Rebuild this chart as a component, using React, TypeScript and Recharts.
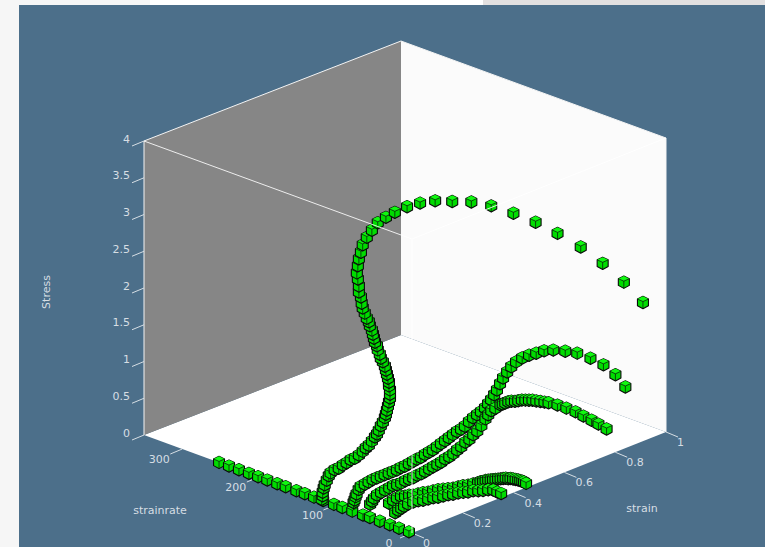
import { ScatterChart, Scatter, XAxis, YAxis } from 'recharts'

// Axis ticks
const stressTicks = [0, 0.5, 1, 1.5, 2, 2.5, 3, 3.5, 4]
const strainTicks = [0, 0.2, 0.4, 0.6, 0.8, 1]
const rateTicks = [0, 100, 200, 300]
const rateMax = 350
const stressMax = 4

// Points lying along the strainrate axis (strain and stress both zero)
const axisRates = [252, 239, 226, 213, 201, 189, 176, 165, 151, 140, 128, 116, 102, 91, 78, 64, 55, 42, 29, 17, 4]

// Constant strainrate of each curve
const curveRates = [118, 88, 60, 30, 22]

const strainA = [0, 0.004, 0.004, 0.008, 0.012, 0.02, 0.028, 0.035, 0.051, 0.067, 0.083, 0.098, 0.114, 0.13, 0.146, 0.161, 0.173, 0.185, 0.197, 0.209, 0.217, 0.224, 0.232, 0.24, 0.248, 0.252, 0.256, 0.26, 0.264, 0.268, 0.268, 0.268, 0.264, 0.264, 0.26, 0.256, 0.252, 0.248, 0.24, 0.232, 0.228, 0.22, 0.217, 0.209, 0.205, 0.201, 0.197, 0.189, 0.185, 0.177, 0.169, 0.161, 0.157, 0.154, 0.146, 0.146, 0.142, 0.138, 0.142, 0.146, 0.154, 0.161, 0.177, 0.197, 0.22, 0.252, 0.287, 0.335, 0.386, 0.445, 0.512, 0.587, 0.665, 0.752, 0.839, 0.925, 1.016, 1.102, 1.185, 1.26]
const stressA = [0.01, 0.05, 0.1, 0.15, 0.19, 0.24, 0.29, 0.32, 0.34, 0.34, 0.36, 0.37, 0.39, 0.39, 0.41, 0.44, 0.47, 0.49, 0.53, 0.57, 0.6, 0.64, 0.69, 0.73, 0.78, 0.82, 0.87, 0.92, 0.97, 1.02, 1.07, 1.13, 1.19, 1.24, 1.3, 1.36, 1.42, 1.48, 1.55, 1.61, 1.67, 1.74, 1.8, 1.86, 1.92, 1.98, 2.04, 2.11, 2.17, 2.23, 2.31, 2.39, 2.46, 2.55, 2.63, 2.71, 2.81, 2.9, 2.99, 3.08, 3.16, 3.25, 3.33, 3.4, 3.47, 3.5, 3.52, 3.53, 3.51, 3.46, 3.36, 3.25, 3.09, 2.87, 2.63, 2.36, 2.05, 1.71, 1.34, 0.96]

const strainB = [0.035, 0.039, 0.043, 0.047, 0.055, 0.063, 0.079, 0.094, 0.11, 0.126, 0.142, 0.157, 0.173, 0.189, 0.205, 0.22, 0.236, 0.252, 0.268, 0.283, 0.299, 0.315, 0.331, 0.346, 0.362, 0.378, 0.394, 0.409, 0.425, 0.441, 0.457, 0.472, 0.488, 0.504, 0.52, 0.535, 0.551, 0.563, 0.575, 0.587, 0.598, 0.61, 0.622, 0.638, 0.654, 0.673, 0.697, 0.724, 0.752, 0.783, 0.819, 0.866, 0.913, 0.965, 1.016, 1.063, 1.102]
const stressB = [0.03, 0.06, 0.1, 0.13, 0.18, 0.21, 0.22, 0.23, 0.24, 0.24, 0.24, 0.24, 0.24, 0.24, 0.24, 0.25, 0.25, 0.26, 0.27, 0.28, 0.28, 0.3, 0.31, 0.32, 0.34, 0.36, 0.38, 0.4, 0.42, 0.44, 0.45, 0.47, 0.51, 0.54, 0.56, 0.58, 0.61, 0.65, 0.69, 0.74, 0.79, 0.86, 0.92, 0.98, 1.03, 1.07, 1.09, 1.09, 1.08, 1.07, 1.03, 0.95, 0.86, 0.72, 0.56, 0.36, 0.14]

const strainC = [0.016, 0.024, 0.031, 0.043, 0.059, 0.075, 0.091, 0.106, 0.122, 0.138, 0.154, 0.169, 0.185, 0.201, 0.217, 0.232, 0.248, 0.264, 0.28, 0.295, 0.311, 0.327, 0.343, 0.358, 0.374, 0.39, 0.406, 0.421, 0.437, 0.453, 0.469, 0.48, 0.492, 0.508, 0.528, 0.537, 0.547, 0.559, 0.571, 0.585, 0.598, 0.612, 0.626, 0.64, 0.654, 0.669, 0.685, 0.701, 0.717, 0.752, 0.787, 0.823, 0.854, 0.886, 0.913, 0.945]
const stressC = [0.14, 0.17, 0.2, 0.23, 0.24, 0.25, 0.26, 0.27, 0.26, 0.26, 0.27, 0.27, 0.27, 0.28, 0.28, 0.29, 0.3, 0.31, 0.32, 0.33, 0.35, 0.36, 0.38, 0.41, 0.43, 0.47, 0.49, 0.53, 0.56, 0.61, 0.68, 0.72, 0.76, 0.77, 0.79, 0.79, 0.79, 0.79, 0.78, 0.76, 0.75, 0.74, 0.72, 0.7, 0.68, 0.65, 0.62, 0.59, 0.56, 0.48, 0.39, 0.29, 0.19, 0.09, 0, -0.11]

const strainD = [0, 0.016, 0.031, 0.047, 0.063, 0.079, 0.094, 0.114, 0.134, 0.154, 0.173, 0.193, 0.213, 0.232, 0.252, 0.272, 0.291, 0.311, 0.331, 0.35, 0.36, 0.37, 0.38, 0.39, 0.4, 0.409, 0.419, 0.429, 0.439, 0.449, 0.459, 0.469, 0.478, 0.488, 0.498, 0.508, 0.516, 0.524, 0.531, 0.539]
const stressD = [0.29, 0.31, 0.32, 0.32, 0.3, 0.29, 0.27, 0.26, 0.25, 0.23, 0.22, 0.21, 0.19, 0.17, 0.15, 0.14, 0.13, 0.11, 0.1, 0.09, 0.09, 0.08, 0.08, 0.07, 0.06, 0.05, 0.04, 0.03, 0.02, 0.01, 0, -0.02, -0.03, -0.05, -0.07, -0.09, -0.11, -0.13, -0.15, -0.18]

const strainE = [0, 0.012, 0.024, 0.035, 0.051, 0.071, 0.091, 0.11, 0.13, 0.15, 0.169, 0.189, 0.209, 0.228, 0.248, 0.268, 0.287, 0.307, 0.327, 0.346, 0.366, 0.386, 0.402, 0.417]
const stressE = [0.19, 0.21, 0.22, 0.23, 0.24, 0.24, 0.23, 0.21, 0.2, 0.19, 0.17, 0.16, 0.15, 0.13, 0.12, 0.1, 0.08, 0.07, 0.04, 0.02, 0, -0.03, -0.08, -0.12]

const curves = [
  [strainA, stressA],
  [strainB, stressB],
  [strainC, stressC],
  [strainD, stressD],
  [strainE, stressE],
]

const W = 765
const H = 547

// Fixed oblique view of the box, gives chart-plane x/y for a 3D value
function project(strain: number, rate: number, stress: number) {
  const r = rate / rateMax
  return {
    x: 412 - 268 * r + 254 * strain + 3 * strain * r,
    y: 533 - 98 * r - 101 * strain + strain * r - (294 * stress) / stressMax,
  }
}

const axisPoints = axisRates.map(rate => project(0, rate, 0))
const stressPoints = stressTicks.map(v => ({ ...project(0, rateMax, v), label: String(v) }))
const strainPoints = strainTicks.map(v => ({ ...project(v, 0, 0), label: String(v) }))
const ratePoints = rateTicks.map(v => ({ ...project(0, v, 0), label: String(v) }))

const corner = (strain: number, rate: number, stress: number) => project(strain, rate ? rateMax : 0, stress ? stressMax : 0)

const backEdges = [
  [corner(0, 1, 1), corner(1, 1, 1)],
  [corner(1, 1, 1), corner(1, 0, 1)],
  [corner(0, 1, 0), corner(0, 1, 1)],
  [corner(1, 0, 0), corner(1, 0, 1)],
]
const frontEdges = [
  [corner(0, 1, 1), corner(0, 0, 1)],
  [corner(0, 0, 1), corner(1, 0, 1)],
  [corner(0, 0, 1), corner(0, 0, 0)],
]

const toPoly = (pts: { x: number; y: number }[]) => pts.map(p => `${p.x},${p.y}`).join(' ')

const LABEL = '#d6dee4'
const FONT = '"DejaVu Sans", sans-serif'

function Cube({ cx, cy }: any) {
  return (
    <g transform={`translate(${cx},${cy})`}>
      <polygon points='-5.5,-3.5 0,-6.2 5.5,-3.5 5.5,3.2 0,6.2 -5.5,3.2' fill='#00dc00' stroke='#0a0a0a' strokeWidth={1.1} strokeLinejoin='round' />
      <polygon points='-5.5,-3.5 0,-6.2 5.5,-3.5 0,-1' fill='#10f810' />
      <polyline points='-5.5,-3.5 0,-1 5.5,-3.5' fill='none' stroke='#0a0a0a' strokeWidth={0.7} />
      <line x1={0} y1={-1} x2={0} y2={6} stroke='#0a0a0a' strokeWidth={0.7} />
    </g>
  )
}

// tick mark plus label, one shape per axis direction
function tickShape(dx: number, dy: number, tx: number, ty: number, anchor: string) {
  return ({ cx, cy, payload }: any) => (
    <g>
      <line x1={cx} y1={cy} x2={cx + dx} y2={cy + dy} stroke={LABEL} strokeWidth={1} />
      <text x={cx + tx} y={cy + ty} fill={LABEL} fontSize={11} fontFamily={FONT} textAnchor={anchor} dominantBaseline='central'>
        {payload.label}
      </text>
    </g>
  )
}

const noShape = () => null

export default function App() {
  return (
    <div style={{ position: 'absolute', left: 0, top: 0, width: W, height: H, background: '#f6f6f6', overflow: 'hidden' }}>
      <div style={{ position: 'absolute', left: 150, top: 0, width: 333, height: 5, background: '#fff' }} />
      <div style={{ position: 'absolute', left: 483, top: 0, width: 282, height: 5, background: '#e2e0e0' }} />
      <div style={{ position: 'absolute', left: 19, top: 5, width: 746, height: 542, background: '#4c6f8a' }} />
      <div style={{ position: 'absolute', left: 0, top: 0 }}>
        <ScatterChart width={W} height={H} margin={{ top: 0, right: 0, bottom: 0, left: 0 }}>
          <XAxis type='number' dataKey='x' domain={[0, W]} hide />
          <YAxis type='number' dataKey='y' domain={[0, H]} reversed hide />
          <polygon points={toPoly([corner(0, 1, 0), corner(1, 1, 0), corner(1, 0, 0), corner(0, 0, 0)])} fill='#ffffff' />
          <polygon points={toPoly([corner(0, 1, 0), corner(1, 1, 0), corner(1, 1, 1), corner(0, 1, 1)])} fill='#868686' />
          <polygon points={toPoly([corner(1, 1, 0), corner(1, 0, 0), corner(1, 0, 1), corner(1, 1, 1)])} fill='#fbfbfb' />
          {backEdges.map((edge, i) => (
            <Scatter key={`back${i}`} data={edge} line={{ stroke: '#f4f4f4', strokeWidth: 1 }} shape={noShape} isAnimationActive={false} />
          ))}
          <Scatter data={stressPoints} shape={tickShape(-12, 5, -14, -2, 'end')} isAnimationActive={false} />
          <Scatter data={ratePoints} shape={tickShape(-12, 5, -23, 10.5, 'middle')} isAnimationActive={false} />
          <Scatter data={strainPoints} shape={tickShape(12, 5, 11, 10.5, 'start')} isAnimationActive={false} />
          <Scatter data={axisPoints} shape={Cube} isAnimationActive={false} />
          {curves.map(([strain, stress], i) => (
            <Scatter
              key={i}
              data={strain.map((s, j) => project(s, curveRates[i], stress[j]))}
              shape={Cube}
              isAnimationActive={false}
            />
          ))}
          {frontEdges.map((edge, i) => (
            <Scatter key={`front${i}`} data={edge} line={{ stroke: '#ffffff', strokeWidth: 1, strokeOpacity: 0.85 }} shape={noShape} isAnimationActive={false} />
          ))}
          <text x={160} y={510} fill={LABEL} fontSize={11} fontFamily={FONT} textAnchor='middle' dominantBaseline='central'>strainrate</text>
          <text x={642} y={508} fill={LABEL} fontSize={11} fontFamily={FONT} textAnchor='middle' dominantBaseline='central'>strain</text>
          <text x={46} y={292} fill={LABEL} fontSize={11} fontFamily={FONT} textAnchor='middle' dominantBaseline='central' transform='rotate(-90 46 292)'>Stress</text>
        </ScatterChart>
      </div>
    </div>
  )
}
